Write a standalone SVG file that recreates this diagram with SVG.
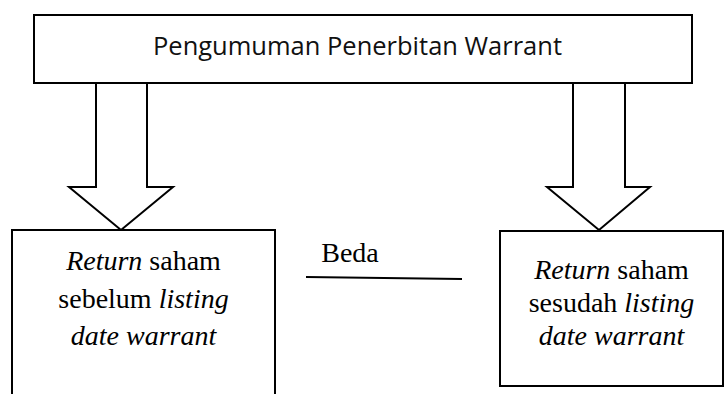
<svg xmlns="http://www.w3.org/2000/svg" width="725" height="394" viewBox="0 0 725 394">
<style>
.box{fill:#fff;stroke:#000;stroke-width:2}
.arrow{fill:#fff;stroke:#000;stroke-width:2;stroke-linejoin:miter}
.t{font-family:"Liberation Serif","Times New Roman",serif;font-size:28px;fill:#000;text-anchor:middle}
.i{font-style:italic}
.h{font-family:"Open Sans","Noto Sans",sans-serif;font-size:26px;fill:#111;text-anchor:middle}
</style>
<rect width="725" height="394" fill="#fff"/>
<g id="connectors">
<polyline class="arrow" points="96,83 96,187 69,187 121,230 173,187 147,187 147,83"/>
<polyline class="arrow" points="573,83 573,187 547,187 599,230 650,187 625,187 625,83"/>
<line x1="306" y1="277" x2="462" y2="279" stroke="#000" stroke-width="2"/>
<text class="t" x="350" y="262">Beda</text>
</g>
<g id="announce">
<rect class="box" x="34" y="15" width="658" height="68"/>
<text class="h" x="357.5" y="55" textLength="409" lengthAdjust="spacingAndGlyphs">Pengumuman Penerbitan Warrant</text>
</g>
<g id="before">
<path class="box" d="M12,396 V230 H275 V396"/>
<text class="t" x="143.5" y="270"><tspan class="i">Return</tspan> saham</text>
<text class="t" x="143.5" y="308">sebelum <tspan class="i">listing</tspan></text>
<text class="t i" x="143.5" y="345">date warrant</text>
</g>
<g id="after">
<rect class="box" x="500" y="231" width="223" height="155"/>
<text class="t" x="611.5" y="279"><tspan class="i">Return</tspan> saham</text>
<text class="t" x="611.5" y="312">sesudah <tspan class="i">listing</tspan></text>
<text class="t i" x="611.5" y="345">date warrant</text>
</g>
</svg>
